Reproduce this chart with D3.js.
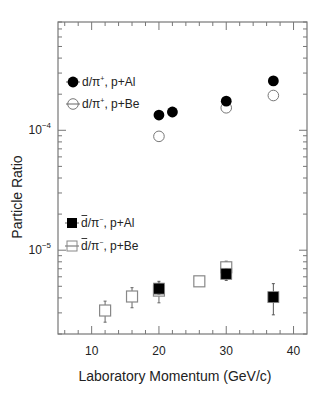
<!doctype html>
<html lang="en">
<head>
  <meta charset="utf-8">
  <script src="https://d3js.org/d3.v7.min.js"></script>
  <style>
    body { margin: 0; background: #fff; }
    text { font-family: "Liberation Sans", Arial, sans-serif; fill: #222; }
  </style>
</head>
<body>
<svg id="chart" width="335" height="403"></svg>
<script>
  // d/pi+ , p+Al (filled circles)
  var alX = [20, 22, 30, 37];
  var alY = [1.34e-4, 1.42e-4, 1.75e-4, 2.58e-4];
  var alLo = [1.29e-4, 1.30e-4, 1.70e-4, 2.52e-4];
  var alHi = [1.39e-4, 1.55e-4, 1.80e-4, 2.64e-4];
  // d/pi+ , p+Be (open circles)
  var beX = [20, 30, 37];
  var beY = [0.89e-4, 1.54e-4, 1.95e-4];
  // dbar/pi- , p+Al (filled squares)
  var aAlX = [20, 30, 37];
  var aAlY = [4.78e-6, 6.35e-6, 4.06e-6];
  var aAlLo = [4.3e-6, 5.6e-6, 2.89e-6];
  var aAlHi = [5.5e-6, 7.0e-6, 5.26e-6];
  // dbar/pi- , p+Be (open squares)
  var aBeX = [12, 16, 20, 26, 30];
  var aBeY = [3.14e-6, 4.11e-6, 4.6e-6, 5.5e-6, 7.2e-6];
  var aBeLo = [2.51e-6, 3.31e-6, 3.64e-6, 5.3e-6, 6.0e-6];
  var aBeHi = [3.76e-6, 4.87e-6, 5.3e-6, 5.7e-6, 8.1e-6];

  var xTicks = [10, 20, 30, 40];
  var yTicks = [1e-5, 1e-4];
  var yExp = ["\u22125", "\u22124"];

  var svg = d3.select("#chart");
  var L = 58, R = 307, T = 22, B = 334;

  var x = d3.scaleLinear().domain([5, 42]).range([L, R]);
  var y = d3.scaleLog().domain([2e-6, 8e-4]).range([B, T]);

  var axisCol = "#777";

  // frame
  svg.append("rect").attr("x", L).attr("y", T).attr("width", R - L).attr("height", B - T)
    .attr("fill", "none").attr("stroke", axisCol).attr("stroke-width", 1.2);

  // x ticks (inward, bottom and top)
  var xMinor = d3.range(6, 42, 2);
  xMinor.forEach(function(v) {
    var len = (v % 10 === 0) ? 8 : 4;
    svg.append("line").attr("x1", x(v)).attr("x2", x(v)).attr("y1", B).attr("y2", B - len)
      .attr("stroke", axisCol);
    svg.append("line").attr("x1", x(v)).attr("x2", x(v)).attr("y1", T).attr("y2", T + len)
      .attr("stroke", axisCol);
  });
  svg.selectAll(".xl").data(xTicks).enter().append("text")
    .attr("x", function(d) { return x(d); }).attr("y", B + 21)
    .attr("text-anchor", "middle").attr("font-size", 12).text(function(d) { return d; });

  // y ticks
  var yMinor = [];
  [1e-6, 1e-5, 1e-4].forEach(function(dec) {
    for (var k = 1; k < 10; k++) {
      var v = dec * k;
      if (v >= 2e-6 && v <= 8e-4) yMinor.push({v: v, major: k === 1});
    }
  });
  yMinor.forEach(function(t) {
    var len = t.major ? 8 : 4;
    svg.append("line").attr("x1", L).attr("x2", L + len).attr("y1", y(t.v)).attr("y2", y(t.v))
      .attr("stroke", axisCol);
    svg.append("line").attr("x1", R).attr("x2", R - len).attr("y1", y(t.v)).attr("y2", y(t.v))
      .attr("stroke", axisCol);
  });
  yTicks.forEach(function(v, i) {
    var t = svg.append("text").attr("x", 51).attr("y", y(v) + 4)
      .attr("text-anchor", "end").attr("font-size", 12);
    t.append("tspan").text("10");
    t.append("tspan").attr("dy", -6).attr("font-size", 8).text(yExp[i]);
  });

  // axis titles
  svg.append("text").attr("x", 175).attr("y", 381).attr("text-anchor", "middle")
    .attr("font-size", 14).text("Laboratory Momentum (GeV/c)");
  svg.append("text").attr("transform", "translate(22,197) rotate(-90)")
    .attr("text-anchor", "middle").attr("font-size", 14).text("Particle Ratio");

  function errBars(xs, lo, hi, col) {
    xs.forEach(function(v, i) {
      svg.append("line").attr("x1", x(v)).attr("x2", x(v)).attr("y1", y(lo[i])).attr("y2", y(hi[i]))
        .attr("stroke", col);
      [lo[i], hi[i]].forEach(function(e) {
        svg.append("line").attr("x1", x(v) - 1.5).attr("x2", x(v) + 1.5).attr("y1", y(e)).attr("y2", y(e))
          .attr("stroke", col);
      });
    });
  }

  // anti-deuteron squares
  errBars(aBeX, aBeLo, aBeHi, "#666");
  svg.selectAll(".abe").data(aBeX).enter().append("rect")
    .attr("x", function(d) { return x(d) - 5.5; })
    .attr("y", function(d, i) { return y(aBeY[i]) - 5.5; })
    .attr("width", 11).attr("height", 11)
    .attr("fill", "#fff").attr("stroke", "#888").attr("stroke-width", 1.2);
  errBars(aAlX, aAlLo, aAlHi, "#555");
  svg.selectAll(".aal").data(aAlX).enter().append("rect")
    .attr("x", function(d) { return x(d) - 5.5; })
    .attr("y", function(d, i) { return y(aAlY[i]) - 5.5; })
    .attr("width", 11).attr("height", 11)
    .attr("fill", "#000").attr("stroke", "#888").attr("stroke-width", 0.8);

  // deuteron circles
  svg.selectAll(".be").data(beX).enter().append("circle")
    .attr("cx", function(d) { return x(d); })
    .attr("cy", function(d, i) { return y(beY[i]); })
    .attr("r", 5.3).attr("fill", "#fff").attr("stroke", "#777").attr("stroke-width", 1);
  errBars(alX, alLo, alHi, "#555");
  svg.selectAll(".al").data(alX).enter().append("circle")
    .attr("cx", function(d) { return x(d); })
    .attr("cy", function(d, i) { return y(alY[i]); })
    .attr("r", 5.4).attr("fill", "#000");

  // legend
  var lg = [
    {ty: "fc", yy: 82, bar: false, s: "+", b: ", p+Al"},
    {ty: "oc", yy: 104, bar: false, s: "+", b: ", p+Be"},
    {ty: "fs", yy: 223, bar: true, s: "\u2212", b: ", p+Al"},
    {ty: "os", yy: 246, bar: true, s: "\u2212", b: ", p+Be"}
  ];
  lg.forEach(function(l) {
    var mx = (l.ty === "fc" || l.ty === "oc") ? 73 : 72;
    svg.append("line").attr("x1", mx - 7).attr("x2", mx + 7).attr("y1", l.yy).attr("y2", l.yy)
      .attr("stroke", "#666");
    if (l.ty === "fc") svg.append("circle").attr("cx", mx).attr("cy", l.yy).attr("r", 5.4).attr("fill", "#000");
    if (l.ty === "oc") svg.append("circle").attr("cx", mx).attr("cy", l.yy).attr("r", 5.3)
      .attr("fill", "none").attr("stroke", "#777");
    if (l.ty === "fs") svg.append("rect").attr("x", mx - 5).attr("y", l.yy - 5).attr("width", 10).attr("height", 10)
      .attr("fill", "#000");
    if (l.ty === "os") svg.append("rect").attr("x", mx - 5).attr("y", l.yy - 5).attr("width", 10).attr("height", 10)
      .attr("fill", "none").attr("stroke", "#888");
    var tx = mx + 9;
    var t = svg.append("text").attr("x", tx).attr("y", l.yy + 4).attr("font-size", 12);
    var dSpan = t.append("tspan").text("d");
    t.append("tspan").text("/\u03c0");
    t.append("tspan").attr("dy", -5).attr("font-size", 7).text(l.s);
    t.append("tspan").attr("dy", 5).text(l.b);
    if (l.bar) {
      var w = dSpan.node().getComputedTextLength();
      svg.append("line").attr("x1", tx + 0.5).attr("x2", tx + w - 0.5)
        .attr("y1", l.yy - 7.5).attr("y2", l.yy - 7.5).attr("stroke", "#222").attr("stroke-width", 0.9);
    }
  });
</script>
</body>
</html>
